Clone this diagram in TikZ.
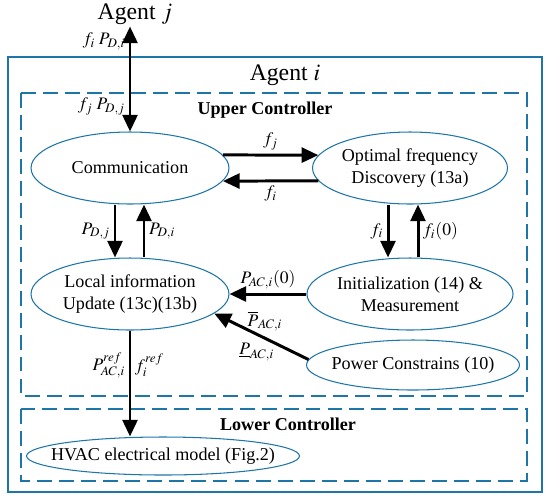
\documentclass[tikz,border=0pt]{standalone}
\usepackage{mathptmx}
\usepackage{fontspec}
\setmainfont{Liberation Serif}
\usetikzlibrary{arrows.meta,shapes.geometric}
\definecolor{agentblue}{RGB}{30,118,168}
\newcommand{\blockfont}{\fontsize{10.3}{12.5}\selectfont}
\tikzset{
  agentbox/.style={draw=agentblue, line width=0.8pt},
  ctrlbox/.style={draw=agentblue, line width=1.1pt, dash pattern=on 8.5pt off 4pt},
  agenttitle/.style={font=\fontsize{13.5}{16}\selectfont, inner sep=1pt},
  ctrltitle/.style={font=\blockfont\bfseries},
  block/.style={ellipse, draw=agentblue, line width=0.6pt, align=center, font=\blockfont, inner sep=0pt},
  flow/.style={-{Triangle[length=9.5pt,width=8.5pt]}, line width=1.7pt},
  sig/.style={font=\fontsize{10}{12}\selectfont, inner sep=2pt},
}

\begin{document}
\begin{tikzpicture}[x=0.02cm, y=-0.02cm]
  \useasboundingbox (0,0) rectangle (550,498);
  % agent i and its two controllers
  \draw[agentbox] (8,57) rectangle (542,492);
  \draw[ctrlbox] (21,93) rectangle (527,396);
  \draw[ctrlbox] (21,409) rectangle (527,481);
  \node[agenttitle] (agentj) at (135,14) {Agent $j$};
  \node[agenttitle] (agenti) at (285,75) {Agent $i$};
  \node[ctrltitle] (upper) at (265,110) {Upper Controller};
  \node[ctrltitle] (lower) at (288,424) {Lower Controller};
  % blocks
  \node[block, minimum width=3.96cm, minimum height=1.44cm] (comm) at (130,168) {Communication};
  \node[block, minimum width=3.9cm, minimum height=1.44cm] (opt) at (410,168) {Optimal frequency\\Discovery (13a)};
  \node[block, minimum width=3.96cm, minimum height=1.44cm] (local) at (130,294) {Local information\\Update (13c)(13b)};
  \node[block, minimum width=3.94cm, minimum height=1.44cm] (init) at (410,294) {Initialization (14) \&\\Measurement};
  \node[block, minimum width=4.26cm, minimum height=1.0cm, inner xsep=-5pt] (power) at (413,365) {Power Constrains (10)};
  \node[block, minimum width=5.46cm, minimum height=0.76cm, inner xsep=-9pt] (hvac) at (163,456) {HVAC electrical model (Fig.2)};
  % signals
  \draw[flow, {Triangle[length=9.5pt,width=8.5pt]}-{Triangle[length=9.5pt,width=8.5pt]}] (comm.north |- agentj.south) --
    node[sig, pos=0.14, left] {$f_i\;P_{D,i}$}
    node[sig, pos=0.76, left] {$f_j\;P_{D,j}$} (comm.north);
  \draw[flow] (comm.8) -- node[sig, above] {$f_j$} (opt.172);
  \draw[flow] (opt.188) -- node[sig, below] {$f_i$} (comm.-8);
  \draw[flow] ([xshift=-0.3cm]comm.south) -- node[sig, left] {$P_{D,j}$} ([xshift=-0.3cm]local.north);
  \draw[flow] ([xshift=0.28cm]local.north) -- node[sig, right] {$P_{D,i}$} ([xshift=0.28cm]comm.south);
  \draw[flow] ([xshift=-0.44cm]opt.south) -- node[sig, left] {$f_i$} ([xshift=-0.44cm]init.north);
  \draw[flow] ([xshift=0.16cm]init.north) -- node[sig, right] {$f_i(0)$} ([xshift=0.16cm]opt.south);
  \draw[flow] (init) -- node[sig, above] {$P_{AC,i}(0)$} (local);
  \draw[flow] (power.177) --
    node[sig, pos=0.5, above=0pt, xshift=2pt] {$\overline{P}_{AC,i}$}
    node[sig, pos=0.55, below=2pt] {$\underline{P}_{AC,i}$} (local.-13);
  \draw[flow] (local.south) --
    node[sig, pos=0.33, left] {$P_{AC,i}^{ref}$}
    node[sig, pos=0.33, right] {$f_i^{ref}$} (local.south |- hvac.north);
\end{tikzpicture}
\end{document}
